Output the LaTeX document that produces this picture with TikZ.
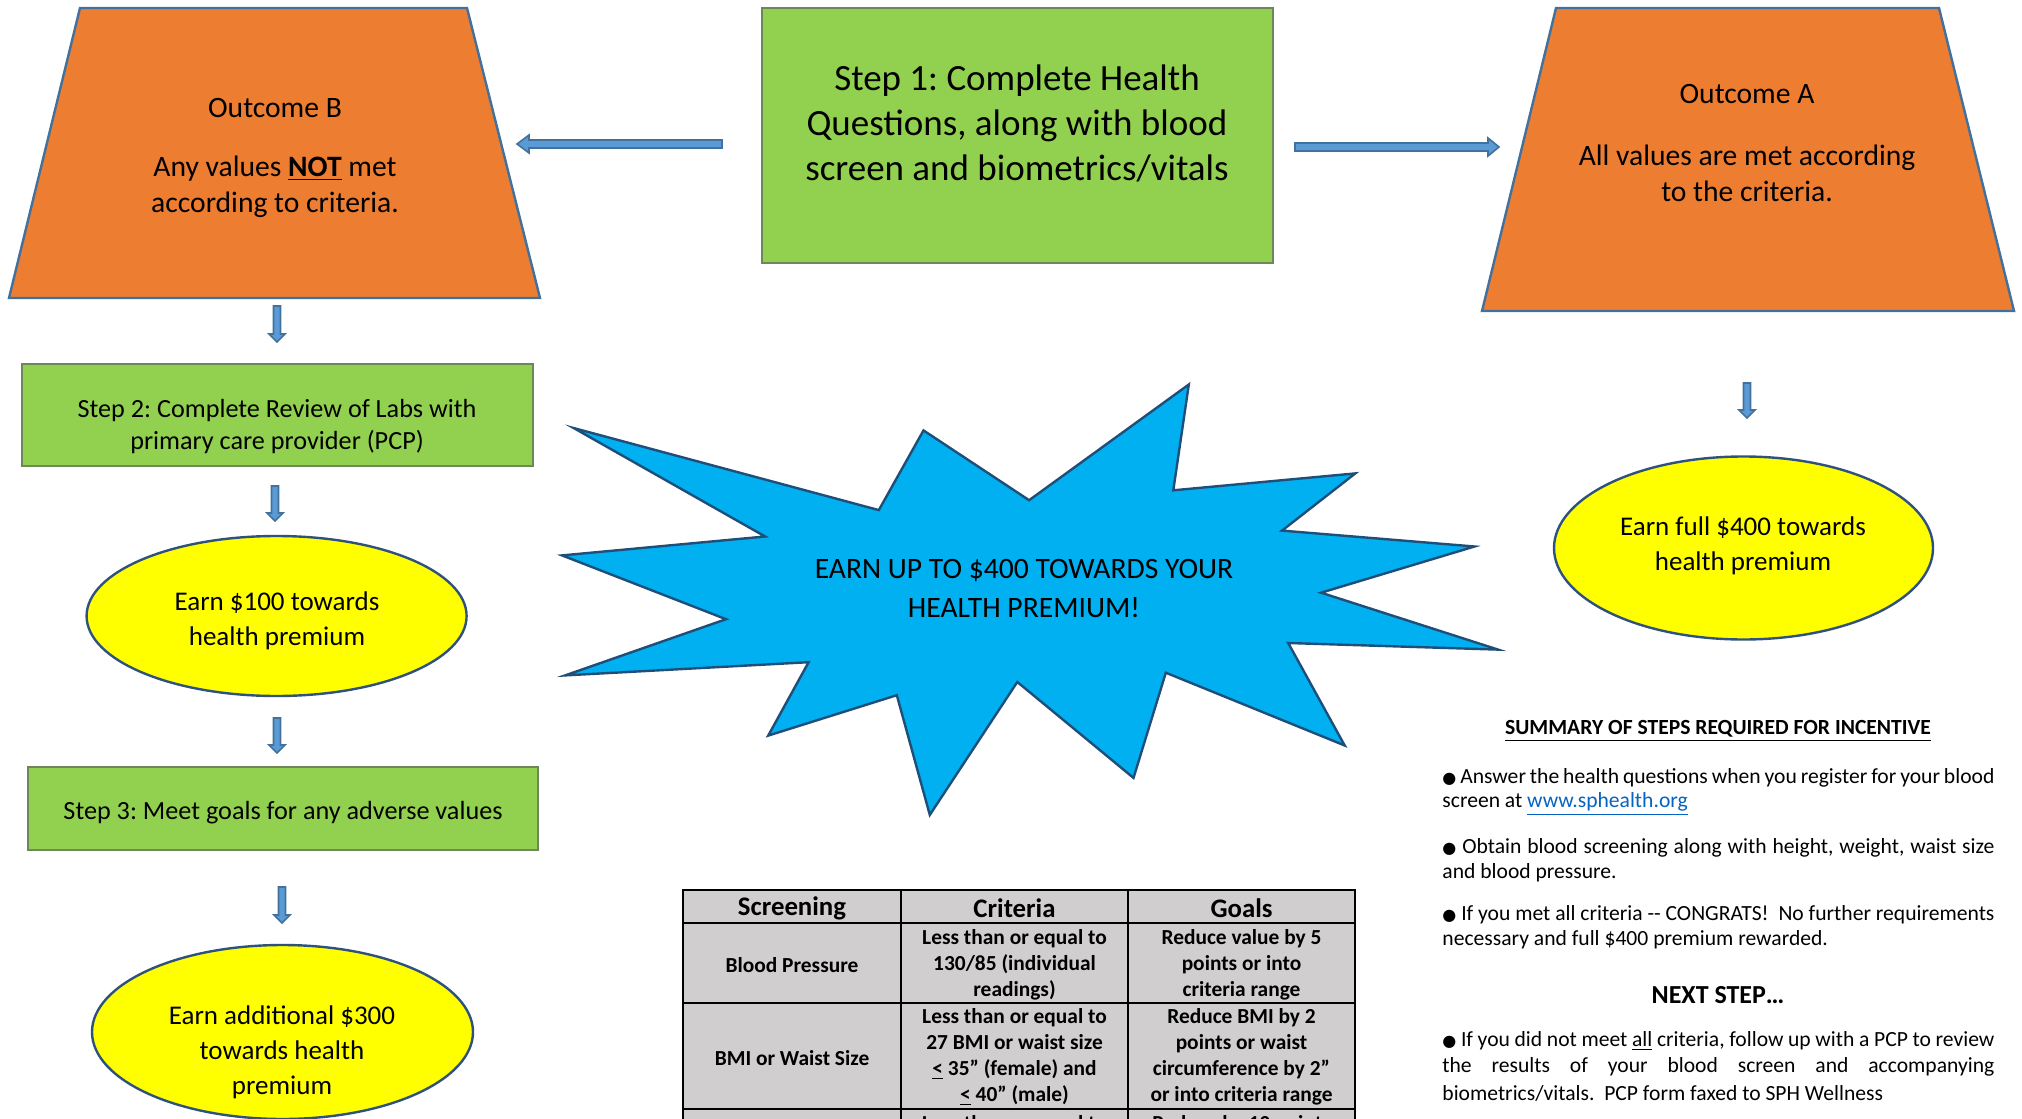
\documentclass[tikz,border=0pt]{standalone}
\usepackage{fontspec}
\setmainfont{Carlito}
\newfontfamily\dejavu{DejaVu Sans}
\usetikzlibrary{shapes.geometric}
\frenchspacing
\definecolor{orangeF}{RGB}{237,125,49}
\definecolor{outlineB}{RGB}{65,113,156}
\definecolor{greenF}{RGB}{146,208,80}
\definecolor{greenB}{RGB}{110,134,88}
\definecolor{yellowF}{RGB}{255,255,0}
\definecolor{ellB}{RGB}{47,82,125}
\definecolor{starF}{RGB}{0,176,240}
\definecolor{starB}{RGB}{31,78,121}
\definecolor{arrF}{RGB}{91,155,213}
\definecolor{tblF}{RGB}{208,206,206}
\definecolor{linkC}{RGB}{5,99,193}
\newcommand{\bul}{{\dejavu\fontsize{8}{8}\selectfont ●}\ }
\newcommand{\lteq}{\underline{<}}
\begin{document}
\begin{tikzpicture}[x=0.5pt,y=-0.5pt,
  trap/.style={fill=orangeF,draw=outlineB,line width=1.2pt,line join=miter},
  stepbox/.style={fill=greenF,draw=greenB,line width=1.3pt},
  oval/.style={ellipse,fill=yellowF,draw=ellB,line width=1.2pt,inner sep=0pt},
  blockarr/.style={fill=arrF,draw=outlineB,line width=0.8pt,line join=miter},
  txt/.style={align=center,inner sep=0pt,font=\fontsize{14.8}{18}\selectfont},
  steptxt/.style={align=center,inner sep=0pt,font=\fontsize{13.1}{16}\selectfont},
  ovaltxt/.style={align=center,inner sep=0pt,font=\fontsize{13.5}{17.5}\selectfont},
  thead/.style={inner sep=0pt,font=\bfseries\fontsize{13.4}{15}\selectfont},
  tbody/.style={align=center,inner sep=0pt,font=\bfseries\fontsize{10.7}{13}\selectfont},
  para/.style={anchor=west,inner sep=0pt,font=\fontsize{10.8}{13}\selectfont},
  tline/.style={line width=0.9pt,draw=black}
]
\useasboundingbox (0,0) rectangle (2022,1118);
\clip (0,0) rectangle (2022,1118);

% ---------- Outcome B ----------
\draw[trap] (80,8) -- (467,8) -- (540,298) -- (9,298) -- cycle;
\node[txt] (obt) at (275,108) {Outcome B};
\node[txt] (obx) at (275,187) {Any values \textbf{\underline{NOT}} met\\according to criteria.};

% ---------- Step 1 ----------
\node[stepbox,minimum width=255.5pt,minimum height=127.5pt,inner sep=0pt] (s1) at (1017.5,135.5) {};
\node[align=center,inner sep=0pt,font=\fontsize{18.5}{22.5}\selectfont] (s1t) at (1017,123)
  {Step 1: Complete Health\\Questions, along with blood\\screen and biometrics/vitals};

% ---------- Outcome A ----------
\draw[trap] (1556,8) -- (1939,8) -- (2014,311) -- (1482,311) -- cycle;
\node[txt] (oat) at (1747,94) {Outcome A};
\node[txt] (oax) at (1747,173) {All values are met according\\to the criteria.};

% ---------- horizontal block arrows ----------
\coordinate (la1) at (722,144); \coordinate (la2) at (517,144);
\draw[blockarr] (722,140) -- (529,140) -- (529,135) -- (517,144) -- (529,153) -- (529,148) -- (722,148) -- cycle;
\coordinate (ra1) at (1295,147); \coordinate (ra2) at (1499,147);
\draw[blockarr] (1295,143) -- (1488,143) -- (1488,138) -- (1499,147) -- (1488,156) -- (1488,151) -- (1295,151) -- cycle;

% ---------- left column ----------
\newcommand{\downarr}[3]{\draw[blockarr] (#1-3.5,#2) -- (#1+3.5,#2) -- (#1+3.5,#3-8) -- (#1+8,#3-8) -- (#1,#3) -- (#1-8,#3-8) -- (#1-3.5,#3-8) -- cycle;}
\downarr{277}{306}{342}
\node[stepbox,minimum width=255.5pt,minimum height=51pt,inner sep=0pt] (s2) at (277.5,415) {};
\node[steptxt] (s2t) at (277,427) {Step 2: Complete Review of Labs with\\primary care provider (PCP)};
\downarr{275}{486}{521}
\node[oval,minimum width=190pt,minimum height=80pt] (e1) at (276.6,616) {};
\node[ovaltxt] (e1t) at (277,621) {Earn \$100 towards\\health premium};
\downarr{277}{718}{753}
\node[stepbox,minimum width=255pt,minimum height=41.5pt,inner sep=0pt] (s3) at (283,808.5) {};
\node[steptxt] (s3t) at (283,813) {Step 3: Meet goals for any adverse values};
\downarr{282}{887}{923}
\node[oval,minimum width=190.5pt,minimum height=87pt] (e2) at (282.5,1032) {};
\node[ovaltxt] (e2t) at (282,1052) {Earn additional \$300\\towards health\\premium};

% ---------- right column ----------
\downarr{1747}{383}{418}
\node[oval,minimum width=189.5pt,minimum height=91.5pt] (ea) at (1743.5,548) {};
\node[ovaltxt] (eat) at (1743,546) {Earn full \$400 towards\\health premium};

% ---------- starburst ----------
\draw[fill=starF,draw=starB,line width=1.2pt,line join=miter]
 (573.8,428.1) -- (878.8,510.1) -- (923.5,430.4) -- (1029.1,500.2) -- (1188.8,384.5) -- (1173.3,490.3)
 -- (1355.3,473.4) -- (1282,530.6) -- (1474.5,546.5) -- (1321.1,592.7) -- (1498.1,649.6) -- (1288.2,643)
 -- (1344.7,745.5) -- (1165.8,672.7) -- (1133.5,777.9) -- (1017.3,682) -- (929.8,814.9) -- (896.8,695.2)
 -- (768.2,735.6) -- (808.6,662.2) -- (565.1,675.4) -- (726,619.2) -- (562,555.4) -- (765.1,536.5) -- cycle;
\node[align=center,inner sep=0pt,font=\fontsize{14.8}{19.5}\selectfont] (st) at (1024,588)
  {EARN UP TO \$400 TOWARDS YOUR\\HEALTH PREMIUM!};

% ---------- table ----------
\fill[tblF] (683,890) rectangle (1355,1130);
\draw[tline] (683,1130) -- (683,890) -- (1355,890) -- (1355,1130);
\draw[tline] (901,890) -- (901,1130);
\draw[tline] (1128,890) -- (1128,1130);
\draw[tline] (683,923) -- (1355,923);
\draw[tline] (683,1003) -- (1355,1003);
\draw[tline] (683,1109) -- (1355,1109);
\node[thead] (h1) at (792,908) {Screening};
\node[thead] (h2) at (1014.5,908) {Criteria};
\node[thead] (h3) at (1241.5,908) {Goals};
\node[tbody] (r1a) at (792,965) {Blood Pressure};
\node[tbody] (r1b) at (1014.5,965) {Less than or equal to\\130/85 (individual\\readings)};
\node[tbody] (r1c) at (1241.5,965) {Reduce value by 5\\points or into\\criteria range};
\node[tbody] (r2a) at (792,1058) {BMI or Waist Size};
\node[tbody] (r2b) at (1014.5,1057) {Less than or equal to\\27 BMI or waist size\\\lteq{} 35” (female) and\\\lteq{} 40” (male)};
\node[tbody] (r2c) at (1241.5,1057) {Reduce BMI by 2\\points or waist\\circumference by 2”\\or into criteria range};
\node[tbody,anchor=north] (r3b) at (1014.5,1115) {Less than or equal to};
\node[tbody,anchor=north] (r3c) at (1241.5,1115) {Reduce by 10 points};

% ---------- summary text ----------
\node[inner sep=0pt,font=\bfseries\fontsize{10.8}{13}\selectfont] (sumh) at (1718,731) {\underline{SUMMARY OF STEPS REQUIRED FOR INCENTIVE}};
\node[para] (p1) at (1442,778) {\makebox[276pt][s]{\bul Answer the health questions when you register for your blood}};
\node[para] (p2) at (1442,804) {screen at {\color{linkC}\underline{www.sphealth.org}}};
\node[para] (p3) at (1442,848) {\makebox[276pt][s]{\bul Obtain blood screening along with height, weight, waist size}};
\node[para] (p4) at (1442,873) {and blood pressure.};
\node[para] (p5) at (1442,915) {\makebox[276pt][s]{\bul If you met all criteria -{}- CONGRATS!\ \ No further requirements}};
\node[para] (p6) at (1442,940) {necessary and full \$400 premium rewarded.};
\node[inner sep=0pt,font=\bfseries\fontsize{13}{15}\selectfont] (nxt) at (1718,995) {NEXT STEP…};
\node[para] (p7) at (1442,1041) {\makebox[276pt][s]{\bul If you did not meet \underline{all} criteria, follow up with a PCP to review}};
\node[para] (p8) at (1442,1067) {\makebox[276pt][s]{the results of your blood screen and accompanying}};
\node[para] (p9) at (1442,1093) {biometrics/vitals.\ \ PCP form faxed to SPH Wellness};
\end{tikzpicture}
\end{document}
